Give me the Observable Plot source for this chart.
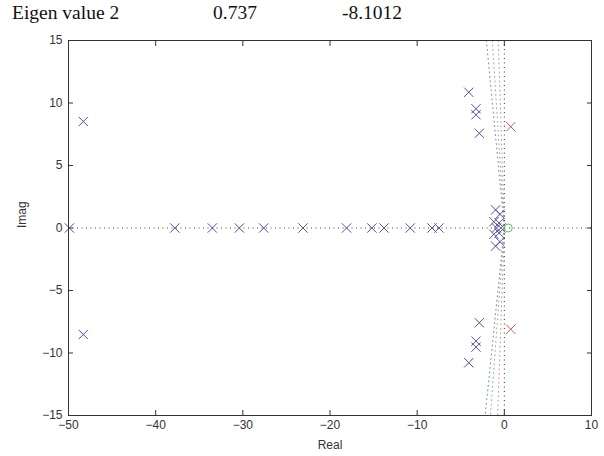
<!DOCTYPE html>
<html>
<head>
<meta charset="utf-8">
<script src="https://cdn.jsdelivr.net/npm/d3@7"></script>
<script src="https://cdn.jsdelivr.net/npm/@observablehq/plot@0.6"></script>
<style>
  html, body { margin: 0; padding: 0; background: #fff; }
  #title { position: relative; height: 32px; font-family: "Liberation Serif", "Times New Roman", serif; font-size: 19.5px; color: #111; }
  #title span { position: absolute; top: 3px; line-height: 1; white-space: pre; }
  svg { display: block; }
</style>
</head>
<body>
<div id="title"><span style="left:12px">Eigen value 2</span><span style="left:213px">0.737</span><span style="left:342px">-8.1012</span></div>
<div id="chart"></div>
<script>
// tick values
const xTicks = [-50, -40, -30, -20, -10, 0, 10];
const yTicks = [-15, -10, -5, 0, 5, 10, 15];

// blue poles (x marks)
const poleRe = [-49.9, -37.8, -33.5, -30.4, -27.6, -23.1, -18.1, -15.2, -13.8, -10.8, -8.3, -7.5,
  -48.3, -48.3, -4.08, -3.25, -3.25, -2.87, -4.08, -3.25, -3.25, -2.87,
  -1.0, -0.5, -1.2, -0.6, -0.9, -0.4, -1.2, -0.6, -1.0, -0.5];
const poleIm = [0, 0, 0, 0, 0, 0, 0, 0, 0, 0, 0, 0,
  8.52, -8.52, 10.86, 9.54, 9.06, 7.58, -10.78, -9.05, -9.53, -7.58,
  1.45, 1.1, 0.5, 0.4, 0, 0, -0.5, -0.4, -1.45, -1.1];

// red poles (eigen value 2)
const redRe = [0.737, 0.737];
const redIm = [8.1012, -8.1012];

// green zero (circle)
const zeroRe = [0.45];
const zeroIm = [0];

// dotted lines fanning from the origin
const fanTopRe = [-2.06, -1.38, -0.69];
const fanBotRe = [-2.2, -1.6, -0.77];
const fanColors = ["#7a86b8", "#7cc47c", "#d49090"];

const poles = poleRe.map((r, i) => ({re: r, im: poleIm[i]}));
const reds = redRe.map((r, i) => ({re: r, im: redIm[i]}));
const zeros = zeroRe.map((r, i) => ({re: r, im: zeroIm[i]}));
const fans = fanTopRe.map((t, i) => [{re: t, im: 15}, {re: 0, im: 0}, {re: fanBotRe[i], im: -15}]);

const font = "'Liberation Sans', Arial, sans-serif";
const dot = "1,3.5";

const chart = Plot.plot({
  width: 604,
  height: 424,
  marginTop: 8,
  marginBottom: 41,
  marginLeft: 68,
  marginRight: 13,
  style: {fontFamily: font, fontSize: "12px", color: "#333", background: "#fff"},
  x: {domain: [-50, 10]},
  y: {domain: [-15, 15]},
  marks: [
    Plot.ruleY([0], {stroke: "#444", strokeDasharray: dot, strokeWidth: 1}),
    ...fans.map((f, i) => Plot.line(f, {x: "re", y: "im", stroke: fanColors[i], strokeDasharray: dot, strokeWidth: 1})),
    Plot.ruleX([0], {stroke: "#333", strokeDasharray: dot, strokeWidth: 1}),
    Plot.dot(poles, {x: "re", y: "im", symbol: "times", r: 4.3, stroke: "#50509c", strokeWidth: 1}),
    Plot.dot(reds, {x: "re", y: "im", symbol: "times", r: 4.3, stroke: "#c85a5a", strokeWidth: 1}),
    Plot.dot(zeros, {x: "re", y: "im", r: 4, stroke: "#5cbf5c", strokeWidth: 1}),
    Plot.frame({stroke: "#333", strokeWidth: 1}),
    Plot.axisX(xTicks, {anchor: "bottom", tickSize: -5, tickPadding: 10, label: null, fontSize: 12}),
    Plot.axisX(xTicks, {anchor: "top", tickSize: -5, tickFormat: () => "", label: null}),
    Plot.axisY(yTicks, {anchor: "left", tickSize: -5, tickPadding: 11, label: null, fontSize: 12}),
    Plot.axisY(yTicks, {anchor: "right", tickSize: -5, tickFormat: () => "", label: null}),
    Plot.text(["Real"], {frameAnchor: "bottom", dy: 33, fontSize: 12, fill: "#333"}),
    Plot.text(["Imag"], {frameAnchor: "left", dx: -46, rotate: -90, fontSize: 12, fill: "#333"})
  ]
});
document.getElementById("chart").appendChild(chart);
</script>
</body>
</html>
